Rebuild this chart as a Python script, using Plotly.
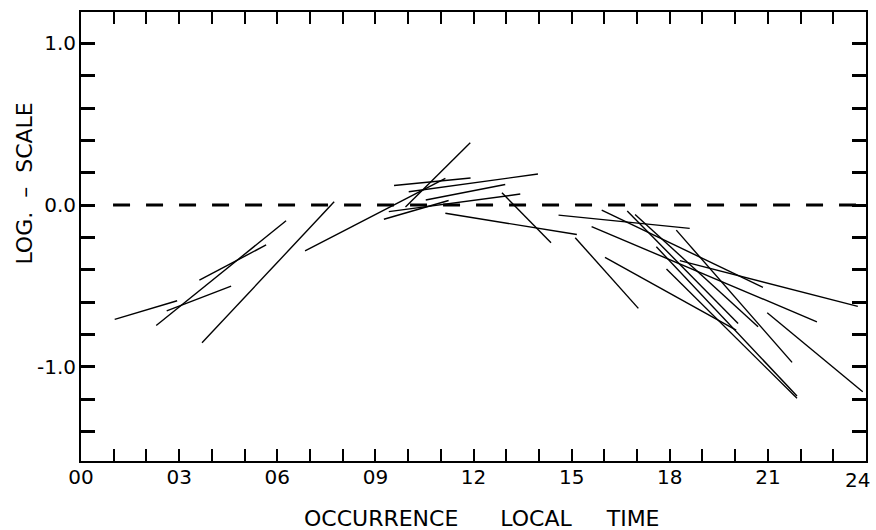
import plotly.graph_objects as go

# Observed log-scale trends: each segment runs from (t_start, v_start) to (t_end, v_end)
t_start = [1.03, 2.30, 2.62, 3.62, 3.70, 6.85, 9.92, 9.57, 10.02, 10.54, 9.41, 9.26, 11.14,
           12.87, 14.60, 15.11, 15.61, 15.92, 16.70, 16.94, 17.59, 17.90, 18.20, 18.31, 16.02, 20.98]
v_start = [-0.707, -0.745, -0.654, -0.464, -0.852, -0.283, -0.012, 0.121, 0.082, 0.031, -0.041, -0.088, -0.051,
           0.076, -0.062, -0.202, -0.134, -0.031, -0.037, -0.058, -0.258, -0.396, -0.155, -0.344, -0.323, -0.666]
t_end = [2.94, 6.27, 4.59, 5.66, 7.74, 11.14, 11.90, 11.91, 13.97, 12.97, 13.43, 11.24, 15.16,
         14.37, 18.61, 17.04, 22.50, 20.85, 20.09, 20.70, 21.89, 21.89, 21.74, 23.75, 20.03, 23.90]
v_end = [-0.592, -0.097, -0.501, -0.247, 0.020, 0.165, 0.385, 0.167, 0.192, 0.127, 0.068, 0.028, -0.182,
         -0.233, -0.144, -0.639, -0.722, -0.509, -0.732, -0.753, -1.181, -1.195, -0.973, -0.627, -0.773, -1.155]

# Axis ticks (the closing "24" is set as a separate label so it stays inside the page)
hour_ticks = list(range(0, 25))
hour_labels = [f"{h:02d}" if h % 3 == 0 and h < 24 else "" for h in hour_ticks]
last_hour_label = "24"
log_ticks = [-1.4, -1.2, -1.0, -0.8, -0.6, -0.4, -0.2, 0.0, 0.2, 0.4, 0.6, 0.8, 1.0]
log_labels = ["", "", "-1.0", "", "", "", "", "0.0", "", "", "", "", "1.0"]

# Reference level
ref_level = 0.0
ref_span = [0.98, 24.0]

xs, ys = [], []
for a, b, c, d in zip(t_start, v_start, t_end, v_end):
    xs += [a, c, None]
    ys += [b, d, None]

fig = go.Figure()
fig.add_trace(go.Scatter(
    x=ref_span, y=[ref_level, ref_level], mode="lines",
    line=dict(color="black", width=3, dash="17px,16px"),
    hoverinfo="skip", showlegend=False,
))
fig.add_trace(go.Scatter(
    x=xs, y=ys, mode="lines",
    line=dict(color="black", width=1.4),
    showlegend=False,
))

font_main = "DejaVu Sans"

fig.update_xaxes(
    range=[0, 24], tickmode="array", tickvals=hour_ticks, ticktext=hour_labels,
    ticks="inside", ticklen=12, tickwidth=1.5, tickcolor="black",
    showline=True, linewidth=2, linecolor="black", mirror="ticks",
    showgrid=False, zeroline=False,
    tickfont=dict(family=font_main, size=20, color="black"),
    ticklabelstandoff=-3,
)
fig.update_yaxes(
    range=[-1.583, 1.194], tickmode="array", tickvals=log_ticks, ticktext=log_labels,
    ticks="inside", ticklen=14, tickwidth=2.5, tickcolor="black",
    showline=True, linewidth=2, linecolor="black", mirror="ticks",
    showgrid=False, zeroline=False,
    tickfont=dict(family=font_main, size=20, color="black"),
    ticklabelstandoff=-1,
)

fig.add_annotation(
    text=last_hour_label, xref="paper", yref="paper", x=1.0076, y=0,
    xanchor="right", yanchor="top", yshift=-5, showarrow=False,
    font=dict(family=font_main, size=20, color="black"),
)

nb = "\u00a0"
fig.add_annotation(
    text=f"OCCURRENCE{nb*6}LOCAL{nb*5}TIME",
    xref="paper", yref="paper", x=0.5114, y=-0.127,
    xanchor="center", yanchor="middle", showarrow=False,
    font=dict(family=font_main, size=22, color="black"),
)
fig.add_annotation(
    text=f"LOG.{nb*2}\u2013{nb*2}SCALE",
    xref="paper", yref="paper", x=-0.0718, y=0.617,
    xanchor="center", yanchor="middle", textangle=-90, showarrow=False,
    font=dict(family=font_main, size=22, color="black"),
)

fig.update_layout(
    width=876, height=530,
    margin=dict(l=81, r=8, t=12, b=69),
    paper_bgcolor="white", plot_bgcolor="white",
)

fig.write_html("out.html")
